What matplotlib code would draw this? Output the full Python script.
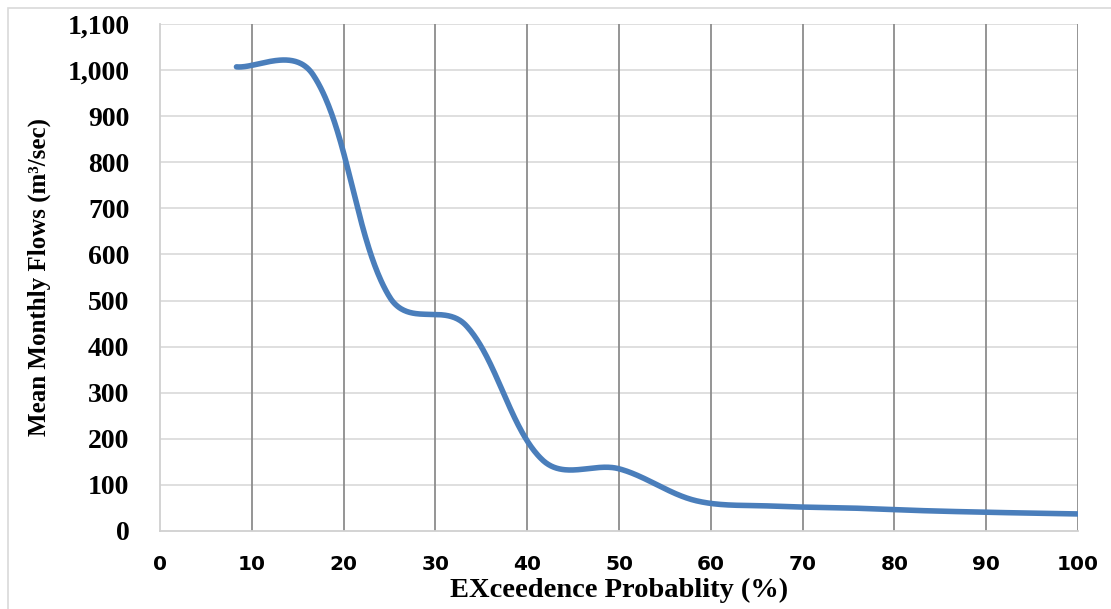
import numpy as np
import matplotlib.pyplot as plt
from matplotlib.patches import Rectangle

# exceedence probability of the 12 ranked monthly means (m/n * 100)
prob = [8.33, 16.67, 25.0, 33.33, 41.67, 50.0, 58.33, 66.67, 75.0, 83.33, 91.67, 100.0]
flow = [1007, 990, 508, 446, 154, 135, 66, 54, 50, 44, 40, 37]

xticks = list(range(0, 101, 10))
yticks = list(range(0, 1101, 100))
ytick_labels = ['{:,}'.format(v) for v in yticks]


def smooth_line(ax, x, y, n=80, mix=0.45):
    """Smoothed line like a spreadsheet chart: Bezier segments built in
    screen space; control arm is a blend of Catmull-Rom and chord length."""
    p = ax.transData.transform(np.column_stack([x, y]))
    m = len(p)
    span = np.zeros_like(p)
    for i in range(m):
        span[i] = p[min(i + 1, m - 1)] - p[max(i - 1, 0)]
    t = np.linspace(0, 1, n)[:, None]
    out = []
    for i in range(m - 1):
        p0, p3 = p[i], p[i + 1]
        chord = np.hypot(*(p3 - p0)) / 3.0
        arms = []
        for k in (i, i + 1):
            s = span[k]
            ln = np.hypot(*s)
            cr = ln / 6.0
            arms.append(s / ln * (mix * cr + (1 - mix) * chord))
        c1 = p0 + arms[0]
        c2 = p3 - arms[1]
        seg = ((1 - t) ** 3 * p0 + 3 * (1 - t) ** 2 * t * c1
               + 3 * (1 - t) * t ** 2 * c2 + t ** 3 * p3)
        out.append(seg if i == 0 else seg[1:])
    pts = ax.transData.inverted().transform(np.vstack(out))
    return pts[:, 0], pts[:, 1]


fig = plt.figure(figsize=(11.11, 6.09), dpi=100)
fig.patches.append(Rectangle((8 / 1111, -0.1), 1.2, (609 - 8) / 609 + 0.1,
                             transform=fig.transFigure, fill=False,
                             edgecolor='#d9d9d9', lw=1.2))
ax = fig.add_axes([160 / 1111, 78 / 609, 918 / 1111, 507 / 609])
ax.set_xlim(0, 100)
ax.set_ylim(0, 1100)

sx, sy = smooth_line(ax, prob, flow)
ax.plot(sx, sy, color='#4a7ebb', lw=4.0, solid_capstyle='round', zorder=3)

ax.set_xticks(xticks)
ax.set_yticks(yticks)
ax.set_yticklabels(ytick_labels)

for v in xticks[1:]:
    ax.axvline(v, color='#8c8c8c', lw=1.3, zorder=2)
for v in yticks[1:]:
    ax.axhline(v, color='#dcdcdc', lw=1.3, zorder=1)

for side in ['top', 'right']:
    ax.spines[side].set_visible(False)
for side in ['left', 'bottom']:
    ax.spines[side].set_color('#d0d0d0')
    ax.spines[side].set_linewidth(1.3)

ax.tick_params(length=0)
ax.tick_params(axis='y', pad=22)
ax.tick_params(axis='x', pad=17)
for lb in ax.get_yticklabels():
    lb.set_fontfamily('Liberation Serif')
    lb.set_fontweight('bold')
    lb.set_fontsize(20)
for lb in ax.get_xticklabels():
    lb.set_fontfamily('DejaVu Sans')
    lb.set_fontweight('bold')
    lb.set_fontsize(14.5)

ax.set_xlabel('EXceedence Probablity (%)', fontfamily='Liberation Serif',
              fontweight='bold', fontsize=20.5, labelpad=3)
ax.set_ylabel('Mean Monthly Flows (m³/sec)', fontfamily='Liberation Serif',
              fontweight='bold', fontsize=18, labelpad=12)

fig.savefig('out.png', dpi=100)
